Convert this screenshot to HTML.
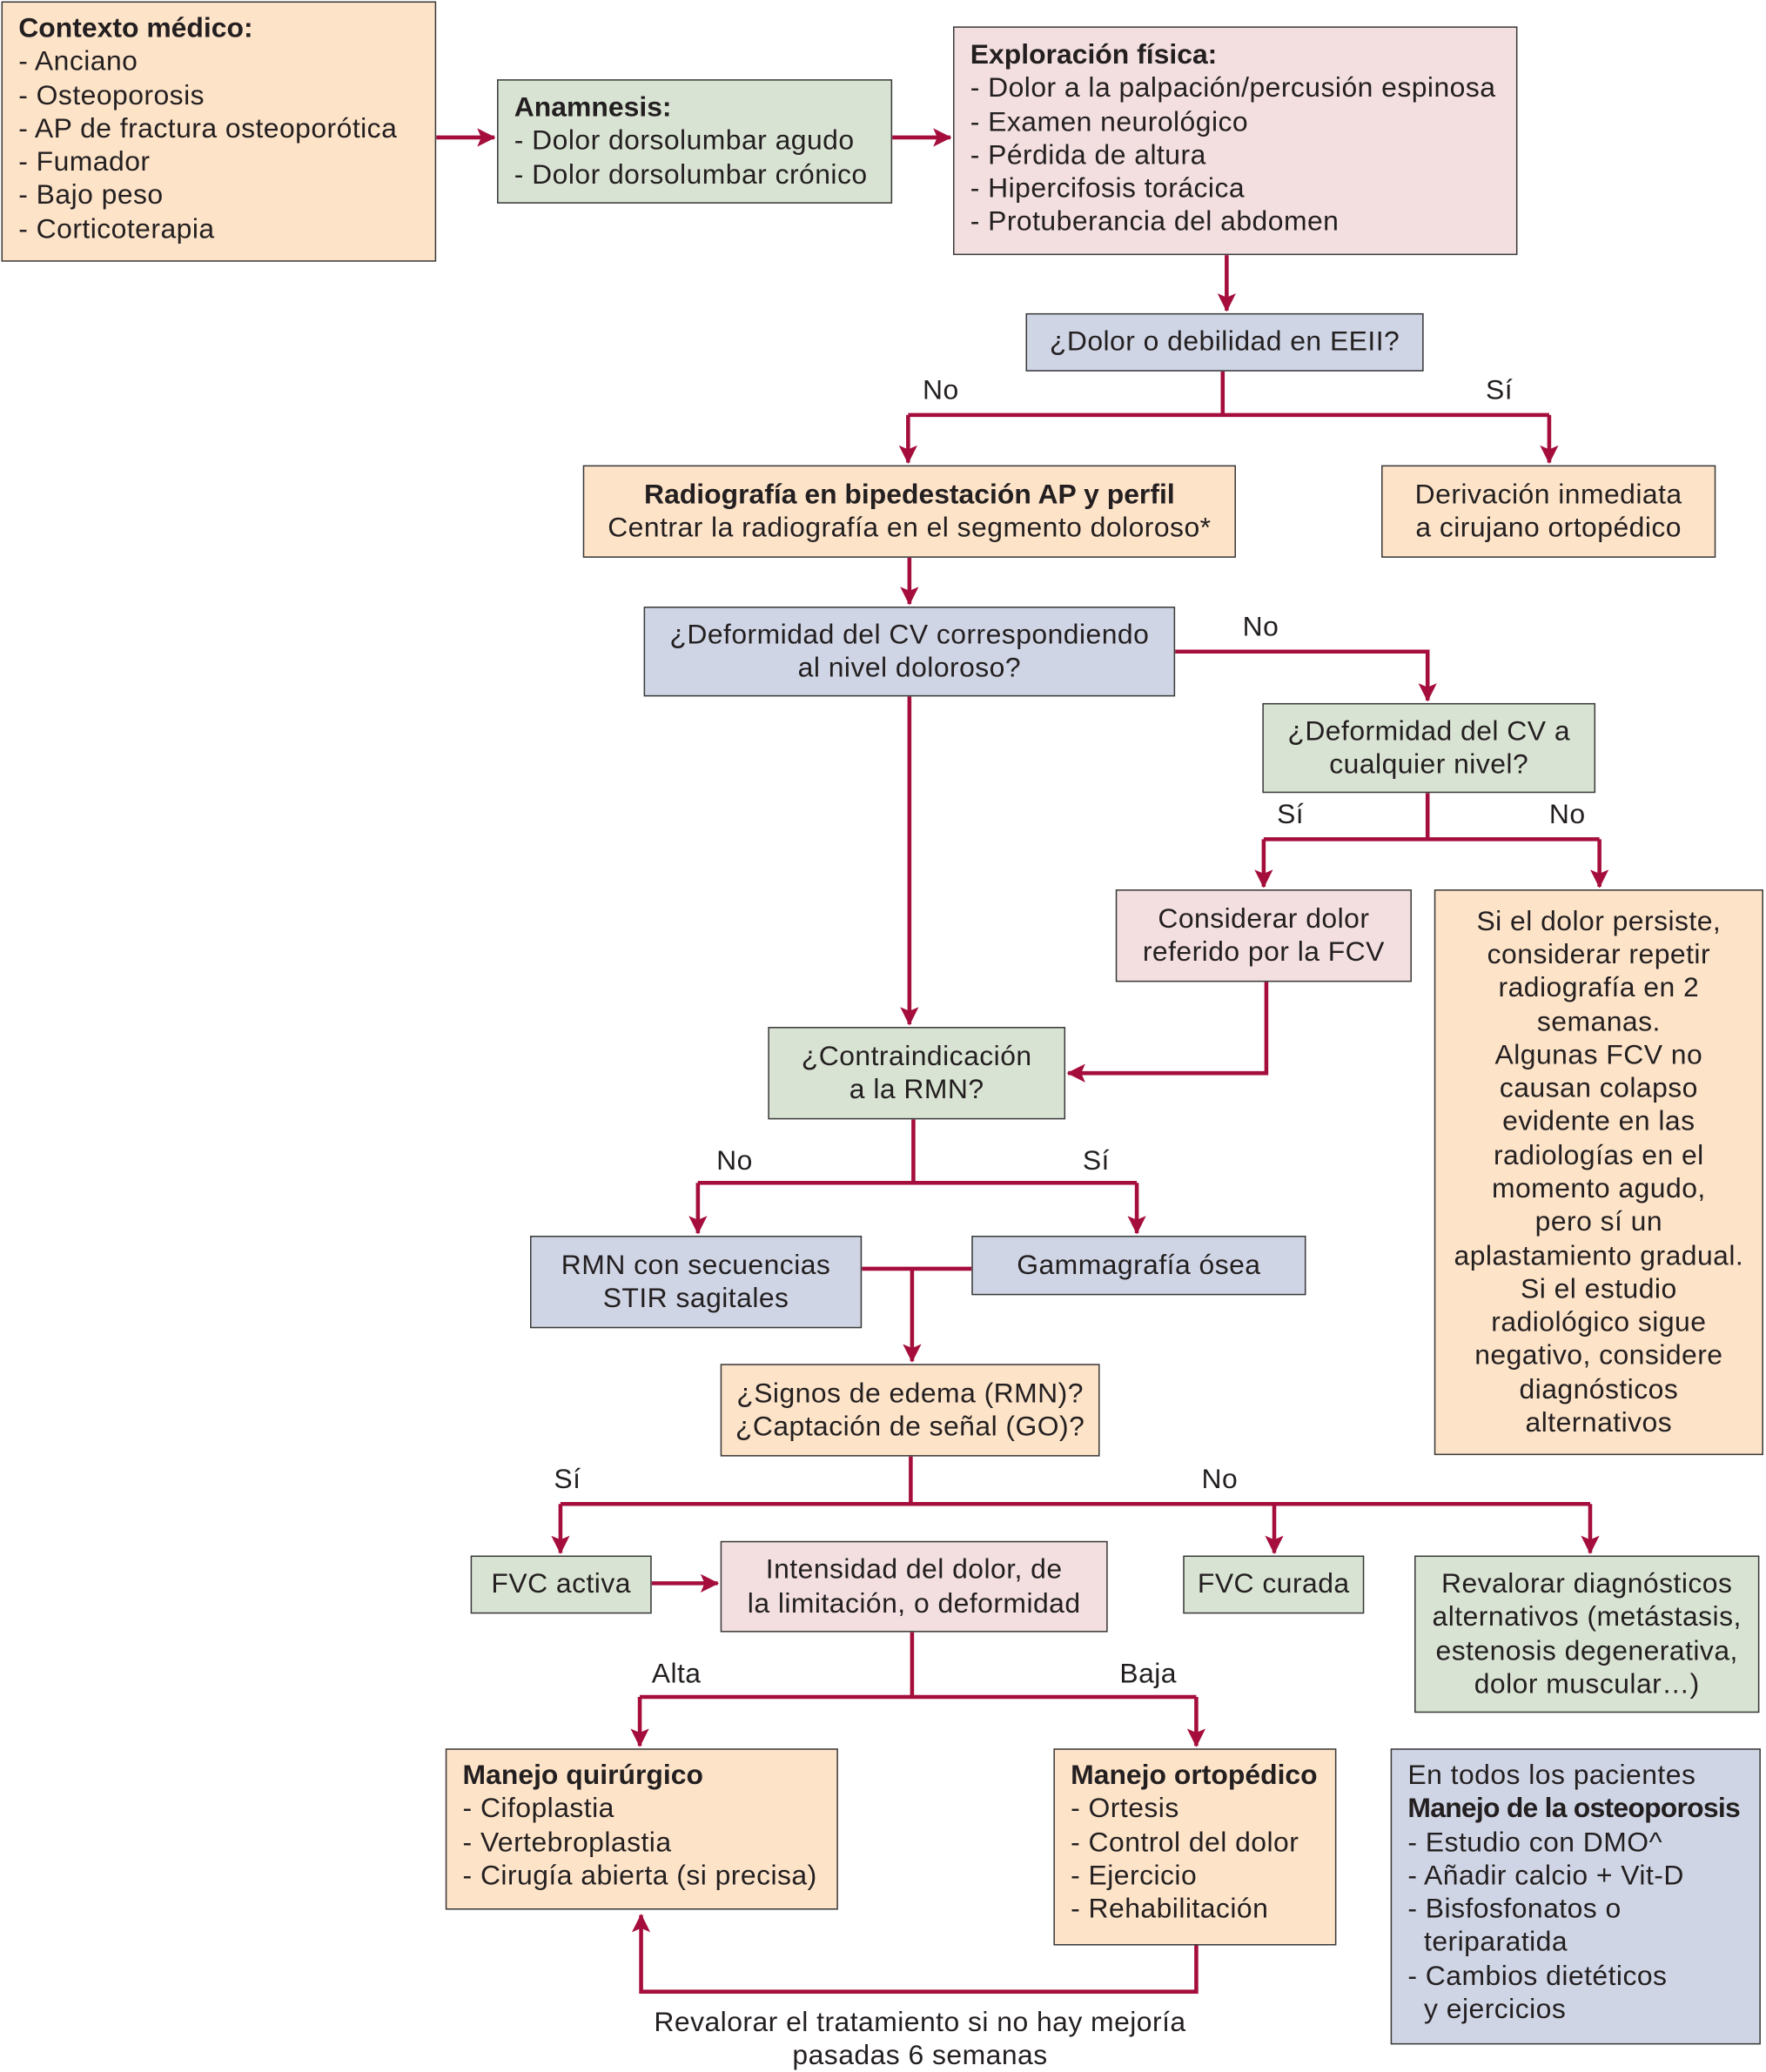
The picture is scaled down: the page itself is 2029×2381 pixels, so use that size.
<!DOCTYPE html>
<html><head><meta charset="utf-8"><style>
html,body{margin:0;padding:0;background:#fff;}
#wrap{width:2029px;height:2381px;overflow:hidden;position:relative;}
#c{position:absolute;left:0;top:0;width:1336px;height:1568px;transform:scale(1.5187);transform-origin:0 0;font-family:"Liberation Sans",sans-serif;color:#231f20;}
.b{position:absolute;box-sizing:border-box;border:1.5px solid #3a3a3a;font-size:21px;letter-spacing:0.3px;line-height:25.3px;}
.l{padding:8px 12px;text-align:left;white-space:nowrap;}
.m{display:flex;flex-direction:column;justify-content:center;align-items:center;text-align:center;white-space:nowrap;}
.o{background:#fde3c8}.g{background:#d9e3d3}.p{background:#f3dfdf}.u{background:#cfd5e4}
.t{position:absolute;font-size:21px;letter-spacing:0.3px;line-height:25px;white-space:nowrap;}
b{font-weight:bold;letter-spacing:0;}
svg{position:absolute;left:0;top:0;}
</style></head><body><div id="wrap"><div id="c">
<svg width="1336" height="1568" viewBox="0 0 1336 1568">
<defs>
<marker id="A" markerWidth="14" markerHeight="14" refX="13" refY="7" orient="auto" markerUnits="userSpaceOnUse"><path d="M0,0 L14,7 L0,14 L3,7 Z" fill="#a50e3c"/></marker></defs>
<g stroke="#a50e3c" stroke-width="3" fill="none">
<path d="M330,104 H374" marker-end="url(#A)"/>
<path d="M675,104 H719" marker-end="url(#A)"/>
<path d="M928,193 V235" marker-end="url(#A)"/>
<path d="M925,281 V314"/><path d="M687,314 H1172"/>
<path d="M687,314 V350" marker-end="url(#A)"/><path d="M1172,314 V350" marker-end="url(#A)"/>
<path d="M688,422 V457" marker-end="url(#A)"/>
<path d="M889,493 H1080 V530" marker-end="url(#A)"/>
<path d="M688,527 V775" marker-end="url(#A)"/>
<path d="M1080,600 V635"/><path d="M956,635 H1210"/>
<path d="M956,635 V671" marker-end="url(#A)"/><path d="M1210,635 V671" marker-end="url(#A)"/>
<path d="M958,743 V812 H808" marker-end="url(#A)"/>
<path d="M691,847 V895"/><path d="M528,895 H860"/>
<path d="M528,895 V933" marker-end="url(#A)"/><path d="M860,895 V933" marker-end="url(#A)"/>
<path d="M652,960 H735"/><path d="M690,960 V1030" marker-end="url(#A)"/>
<path d="M689,1102 V1138"/><path d="M424,1138 H1203"/>
<path d="M424,1138 V1175" marker-end="url(#A)"/><path d="M964,1138 V1175" marker-end="url(#A)"/><path d="M1203,1138 V1175" marker-end="url(#A)"/>
<path d="M493,1198 H543" marker-end="url(#A)"/>
<path d="M690,1235 V1284"/><path d="M484,1284 H905"/>
<path d="M484,1284 V1321" marker-end="url(#A)"/><path d="M905,1284 V1321" marker-end="url(#A)"/>
<path d="M905,1472 V1507 H485 V1449" marker-end="url(#A)"/>
</g></svg>

<div class="b o l" style="left:1px;top:1px;width:329px;height:197px;padding-top:7px"><b>Contexto médico:</b><br>- Anciano<br>- Osteoporosis<br>- AP de fractura osteoporótica<br>- Fumador<br>- Bajo peso<br>- Corticoterapia</div>
<div class="b g l" style="left:376px;top:60px;width:299px;height:94px;padding-top:8px"><b>Anamnesis:</b><br>- Dolor dorsolumbar agudo<br>- Dolor dorsolumbar crónico</div>
<div class="b p l" style="left:721px;top:20px;width:427px;height:173px;padding-top:8px"><b>Exploración física:</b><br>- Dolor a la palpación/percusión espinosa<br>- Examen neurológico<br>- Pérdida de altura<br>- Hipercifosis torácica<br>- Protuberancia del abdomen</div>
<div class="b u m" style="left:776px;top:237px;width:301px;height:44px">¿Dolor o debilidad en EEII?</div>
<div class="b o m" style="left:441px;top:352px;width:494px;height:70px"><b>Radiografía en bipedestación AP y perfil</b>Centrar la radiografía en el segmento doloroso*</div>
<div class="b o m" style="left:1045px;top:352px;width:253px;height:70px">Derivación inmediata<br>a cirujano ortopédico</div>
<div class="b u m" style="left:487px;top:459px;width:402px;height:68px">¿Deformidad del CV correspondiendo<br>al nivel doloroso?</div>
<div class="b g m" style="left:955px;top:532px;width:252px;height:68px">¿Deformidad del CV a<br>cualquier nivel?</div>
<div class="b p m" style="left:844px;top:673px;width:224px;height:70px">Considerar dolor<br>referido por la FCV</div>
<div class="b o m" style="left:1085px;top:673px;width:249px;height:428px">Si el dolor persiste,<br>considerar repetir<br>radiografía en 2<br>semanas.<br>Algunas FCV no<br>causan colapso<br>evidente en las<br>radiologías en el<br>momento agudo,<br>pero sí un<br>aplastamiento gradual.<br>Si el estudio<br>radiológico sigue<br>negativo, considere<br>diagnósticos<br>alternativos</div>
<div class="b g m" style="left:581px;top:777px;width:225px;height:70px">¿Contraindicación<br>a la RMN?</div>
<div class="b u m" style="left:401px;top:935px;width:251px;height:70px">RMN con secuencias<br>STIR sagitales</div>
<div class="b u m" style="left:735px;top:935px;width:253px;height:45px">Gammagrafía ósea</div>
<div class="b o m" style="left:545px;top:1032px;width:287px;height:70px">¿Signos de edema (RMN)?<br>¿Captación de señal (GO)?</div>
<div class="b g m" style="left:356px;top:1177px;width:137px;height:44px">FVC activa</div>
<div class="b p m" style="left:545px;top:1166px;width:293px;height:69px">Intensidad del dolor, de<br>la limitación, o deformidad</div>
<div class="b g m" style="left:895px;top:1177px;width:137px;height:44px">FVC curada</div>
<div class="b g m" style="left:1070px;top:1177px;width:261px;height:119px">Revalorar diagnósticos<br>alternativos (metástasis,<br>estenosis degenerativa,<br>dolor muscular…)</div>
<div class="b o l" style="left:337px;top:1323px;width:297px;height:122px;padding-top:7px"><b>Manejo quirúrgico</b><br>- Cifoplastia<br>- Vertebroplastia<br>- Cirugía abierta (si precisa)</div>
<div class="b o l" style="left:797px;top:1323px;width:214px;height:149px;padding-top:7px"><b>Manejo ortopédico</b><br>- Ortesis<br>- Control del dolor<br>- Ejercicio<br>- Rehabilitación</div>
<div class="b u l" style="left:1052px;top:1323px;width:280px;height:224px;padding-top:7px">En todos los pacientes<br><b style="letter-spacing:-0.5px">Manejo de la osteoporosis</b><br>- Estudio con DMO^<br>- Añadir calcio + Vit-D<br>- Bisfosfonatos o<br>&nbsp;&nbsp;teriparatida<br>- Cambios dietéticos<br>&nbsp;&nbsp;y ejercicios</div>

<div class="t" style="left:698px;top:283px">No</div>
<div class="t" style="left:1124px;top:283px">Sí</div>
<div class="t" style="left:940px;top:462px">No</div>
<div class="t" style="left:966px;top:604px">Sí</div>
<div class="t" style="left:1172px;top:604px">No</div>
<div class="t" style="left:542px;top:866px">No</div>
<div class="t" style="left:819px;top:866px">Sí</div>
<div class="t" style="left:419px;top:1107px">Sí</div>
<div class="t" style="left:909px;top:1107px">No</div>
<div class="t" style="left:493px;top:1254px">Alta</div>
<div class="t" style="left:847px;top:1254px">Baja</div>
<div class="t" style="left:446px;top:1518px;width:500px;text-align:center">Revalorar el tratamiento si no hay mejoría<br>pasadas 6 semanas</div>
</div></div></body></html>
